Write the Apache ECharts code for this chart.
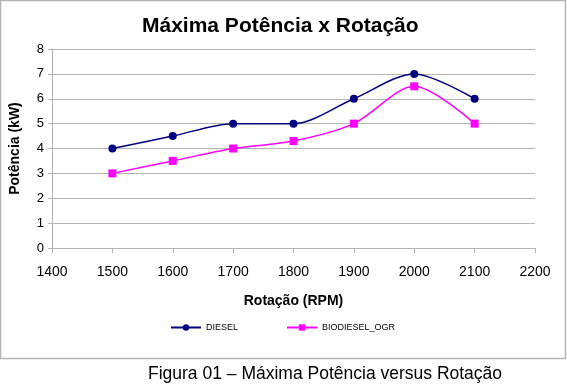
<!DOCTYPE html>
<html>
<head>
<meta charset="utf-8">
<script src="https://cdn.jsdelivr.net/npm/echarts@6/dist/echarts.min.js"></script>
<style>
  html, body { margin: 0; padding: 0; background: #fff; }
  #chart { width: 567px; height: 387px; }
</style>
</head>
<body>
<div id="chart"></div>
<script>
// rotação (RPM) e potência (kW)
const rpm = [1500, 1600, 1700, 1800, 1900, 2000, 2100]
const diesel = [4, 4.5, 5, 5, 6, 7, 6]
const biodiesel = [3, 3.5, 4, 4.3, 5, 6.5, 5]

const font = 'Liberation Sans, Arial, sans-serif'
const gray = '#b4b4b4'

const chart = echarts.init(document.getElementById('chart'))

chart.setOption({
  backgroundColor: '#fff',
  animation: false,
  textStyle: { fontFamily: font },
  title: {
    text: 'Máxima Potência x Rotação',
    left: 137,
    top: 11,
    textStyle: { fontSize: 21, fontWeight: 'bold', color: '#000', fontFamily: font }
  },
  legend: {
    bottom: 50,
    left: 165,
    itemWidth: 30,
    itemHeight: 8,
    itemGap: 48,
    textStyle: { fontSize: 9, color: '#000', fontFamily: font },
    data: ['DIESEL', 'BIODIESEL_OGR']
  },
  grid: { left: 47, right: 32, top: 49, bottom: 139 },
  xAxis: {
    type: 'value',
    min: 1400,
    max: 2200,
    interval: 100,
    name: 'Rotação (RPM)',
    nameLocation: 'middle',
    nameGap: 46,
    nameTextStyle: { fontSize: 14, fontWeight: 'bold', color: '#000' },
    axisLine: { lineStyle: { color: gray } },
    axisTick: { show: true, length: 5, lineStyle: { color: gray } },
    axisLabel: { fontSize: 14, color: '#000', margin: 17, formatter: v => String(v) },
    splitLine: { show: false }
  },
  yAxis: {
    type: 'value',
    min: 0,
    max: 8,
    interval: 1,
    name: 'Potência (kW)',
    nameLocation: 'middle',
    nameGap: 30,
    nameTextStyle: { fontSize: 14, fontWeight: 'bold', color: '#000' },
    axisLine: { show: true, lineStyle: { color: gray } },
    axisTick: { show: true, length: 4, lineStyle: { color: gray } },
    axisLabel: { fontSize: 13, color: '#000', margin: 8 },
    splitLine: { lineStyle: { color: gray } }
  },
  series: [
    {
      name: 'DIESEL',
      type: 'line',
      smooth: 0.3,
      symbol: 'circle',
      symbolSize: 8,
      itemStyle: { color: '#000080' },
      lineStyle: { color: '#000080', width: 1.5 },
      data: rpm.map((x, i) => [x, diesel[i]])
    },
    {
      name: 'BIODIESEL_OGR',
      type: 'line',
      smooth: 0.3,
      symbol: 'rect',
      symbolSize: 8,
      itemStyle: { color: '#ff00ff' },
      lineStyle: { color: '#ff00ff', width: 1.5 },
      data: rpm.map((x, i) => [x, biodiesel[i]])
    }
  ],
  graphic: [
    {
      type: 'rect',
      silent: true,
      shape: { x: 0.5, y: 0.5, width: 565, height: 358 },
      style: { fill: 'none', stroke: gray, lineWidth: 1.5 }
    },
    {
      type: 'text',
      left: 148,
      top: 365,
      style: { text: 'Figura 01 – Máxima Potência versus Rotação', fontSize: 17.5, fill: '#000', fontFamily: font }
    }
  ]
})
</script>
</body>
</html>
